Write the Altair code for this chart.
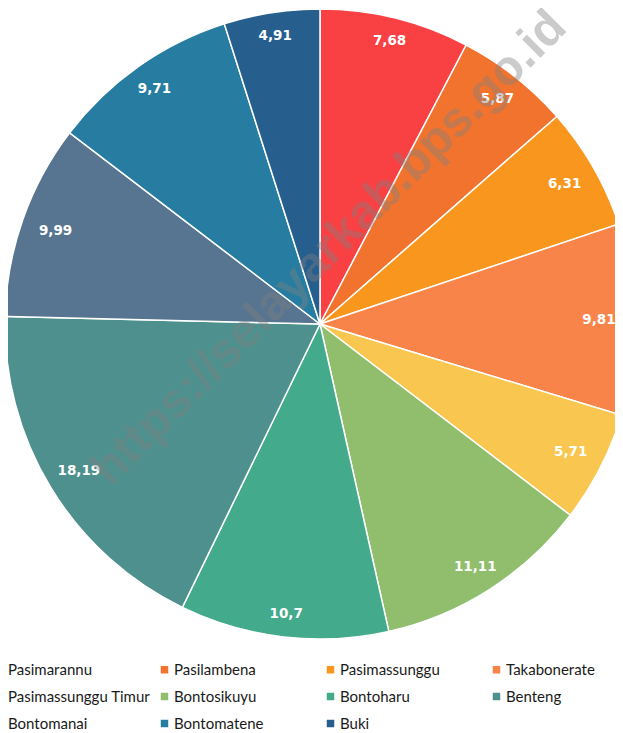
import altair as alt
import pandas as pd

categories = ["Pasimarannu", "Pasilambena", "Pasimassunggu", "Takabonerate",
              "Pasimassunggu Timur", "Bontosikuyu", "Bontoharu", "Benteng",
              "Bontomanai", "Bontomatene", "Buki"]
values = [7.68, 5.87, 6.31, 9.81, 5.71, 11.11, 10.7, 18.19, 9.99, 9.71, 4.91]
labels = ["7,68", "5,87", "6,31", "9,81", "5,71", "11,11", "10,7", "18,19", "9,99", "9,71", "4,91"]
colors = ["#F94144", "#F1732D", "#F8961E", "#F9844A", "#F9C74F", "#90BE6D",
          "#43AA8B", "#4D908E", "#577590", "#277DA1", "#265E8D"]
watermark = ["https://selayarkab.bps.go.id"]

df = pd.DataFrame({"kec": categories, "val": values, "lab": labels,
                   "ord": list(range(len(categories)))})

CX, CY, R = 312, 316, 315
LA, LB = 279, 292  # label ellipse semi-axes (horizontal, vertical)

base = alt.Chart(df).encode(
    theta=alt.Theta("val:Q", stack=True),
    order=alt.Order("ord:Q", sort="ascending"),
)

pie = base.mark_arc(stroke="white", strokeWidth=1.5, outerRadius=R).encode(
    x=alt.value(CX), y=alt.value(CY),
    color=alt.Color("kec:N",
                    scale=alt.Scale(domain=categories, range=colors),
                    sort=categories,
                    legend=alt.Legend(title=None, orient="none", legendX=-17, legendY=654,
                                      columns=4, direction="horizontal", gridAlign="all",
                                      symbolType="square", symbolSize=56, symbolStrokeWidth=0,
                                      labelFont="Lato", labelFontSize=15, labelColor="#1a1a1a",
                                      columnPadding=6, rowPadding=11, labelOffset=2,
                                      padding=0, labelLimit=300)),
)

text = alt.Chart(df).transform_joinaggregate(
    total="sum(val)"
).transform_window(
    cum="sum(val)", sort=[alt.SortField("ord", order="ascending")],
    frame=[None, 0]
).transform_calculate(
    mid="(datum.cum - datum.val / 2) / datum.total * 2 * PI"
).transform_calculate(
    lr=f"1 / sqrt(pow(sin(datum.mid) / {LA}, 2) + pow(cos(datum.mid) / {LB}, 2))"
).mark_text(font="DejaVu Sans", fontWeight="bold", fontSize=13.5, color="white").encode(
    x=alt.value(CX), y=alt.value(CY),
    theta=alt.Theta("mid:Q", scale=None),
    radius=alt.Radius("lr:Q", scale=None),
    text="lab:N",
)

wm = alt.Chart(pd.DataFrame({"t": watermark})).mark_text(
    angle=315, font="Liberation Sans", fontWeight="bold", fontSize=49,
    color="#808080", opacity=0.4,
).encode(x=alt.value(321), y=alt.value(240), text="t:N")

chart = alt.layer(pie, text, wm).properties(
    width=607, height=725, autosize=alt.AutoSizeParams(type="none"), padding=0,
).configure_view(stroke=None)

chart.save("out.html", embed_options={"renderer": "svg", "actions": False})
